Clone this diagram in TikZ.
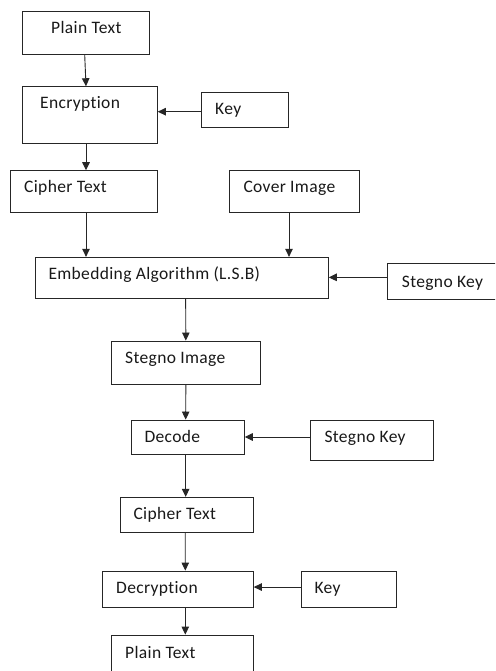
\documentclass[tikz,border=0pt]{standalone}
\usepackage{fontspec}
\setmainfont{Carlito}[Ligatures=NoCommon, LetterSpace=2]
\usetikzlibrary{arrows.meta,fit}

\tikzset{
  stage/.style={draw=black!85, line width=0.9pt, inner sep=0pt, rectangle},
  caption/.style={anchor=base west, inner sep=0pt, font=\fontsize{17.5}{20}\selectfont, text=black!90},
  flow/.style={draw=black!85, line width=0.9pt, -{Triangle[length=8pt,width=7.5pt]}},
}

\begin{document}
\begin{tikzpicture}[x=1pt, y=-1pt]
  \useasboundingbox (0,0) rectangle (495,671);
  \clip (0,0) rectangle (495,671);
  \fill[white] (0,0) rectangle (495,671);

  % encryption side
  \node[stage, fit={(22.7,11.7) (149.3,54.3)}] (pt1) {};
  \node[caption] (pt1t) at (51,33.5) {Plain Text};
  \node[stage, fit={(22.7,86.7) (157.3,143.3)}] (enc) {};
  \node[caption] (enct) at (40,108.5) {Encryption};
  \node[stage, fit={(201.3,92.3) (288.7,127.7)}] (key1) {};
  \node[caption] (key1t) at (215,115) {Key};
  \node[stage, fit={(10.7,170.7) (157.3,212.3)}] (ct1) {};
  \node[caption] (ct1t) at (24,192.5) {Cipher Text};
  \node[stage, fit={(229.3,170.7) (359.3,212.7)}] (cover) {};
  \node[caption] (covert) at (243.3,192.5) {Cover Image};

  % embedding
  \node[stage, fit={(35,257.3) (328.3,298.3)}] (emb) {};
  \node[caption] (embt) at (48.3,279) {Embedding Algorithm (L.S.B)};
  \node[stage, fit={(387.3,263.3) (510,299)}] (skey1) {};
  \node[caption] (skey1t) at (401.7,287.5) {Stegno Key};
  \node[stage, fit={(111,341) (260.7,384.7)}] (simg) {};
  \node[caption] (simgt) at (125,363) {Stegno Image};

  % extraction side
  \node[stage, fit={(131,420) (244.3,454)}] (dec) {};
  \node[caption] (dect) at (144.3,442) {Decode};
  \node[stage, fit={(310.7,420) (433.3,460)}] (skey2) {};
  \node[caption] (skey2t) at (324.3,442.5) {Stegno Key};
  \node[stage, fit={(120,497.3) (253.3,532.7)}] (ct2) {};
  \node[caption] (ct2t) at (133.3,519) {Cipher Text};
  \node[stage, fit={(102.7,571) (253.3,607.7)}] (decr) {};
  \node[caption] (decrt) at (116,593.5) {Decryption};
  \node[stage, fit={(301,571) (396,607.7)}] (key2) {};
  \node[caption] (key2t) at (314.3,593.5) {Key};
  \node[stage, fit={(111.7,635) (253.3,690)}] (pt2) {};
  \node[caption] (pt2t) at (125,658) {Plain Text};

  % connectors
  \draw[flow] ([xshift=-1.3pt]pt1.south) -- ([xshift=-4pt]enc.north);
  \draw[flow] ([yshift=-1.7pt]key1.west) -- ([yshift=-1.7pt]key1.west -| enc.east);
  \draw[flow] ([xshift=-4pt]enc.south) -- ([xshift=2pt]ct1.north);
  \draw[flow] ([xshift=2pt]ct1.south) -- ([xshift=2pt]ct1.south |- emb.north);
  \draw[flow] ([xshift=-5.3pt]cover.south) -- ([xshift=-5.3pt]cover.south |- emb.north);
  \draw[flow] ([yshift=3.8pt]skey1.west) -- ([yshift=3.8pt]skey1.west -| emb.east);
  \draw[flow] ([xshift=4pt]emb.south) -- (simg.north);
  \draw[flow] (simg.south) -- ([xshift=-2pt]dec.north);
  \draw[flow] ([yshift=3pt]skey2.west) -- ([yshift=3pt]skey2.west -| dec.east);
  \draw[flow] ([xshift=-2pt]dec.south) -- ([xshift=-1pt]ct2.north);
  \draw[flow] ([xshift=-1.4pt]ct2.south) -- ([xshift=7.3pt]decr.north);
  \draw[flow] ([yshift=2.3pt]key2.west) -- ([yshift=2.3pt]key2.west -| decr.east);
  \draw[flow] ([xshift=7.3pt]decr.south) -- ([xshift=2.8pt]pt2.north);
\end{tikzpicture}
\end{document}
